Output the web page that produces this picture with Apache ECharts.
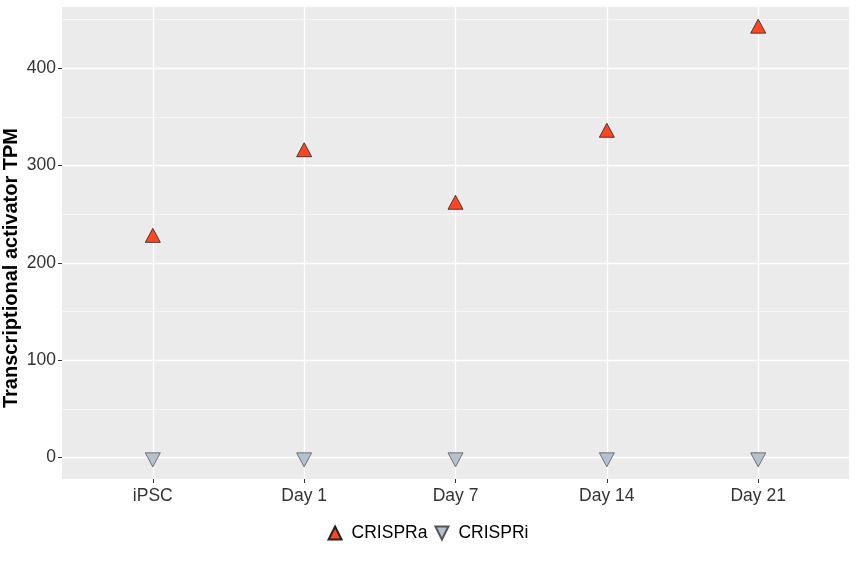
<!DOCTYPE html>
<html>
<head>
<meta charset="utf-8">
<script src="https://cdn.jsdelivr.net/npm/echarts@6/dist/echarts.min.js"></script>
<style>html,body{margin:0;padding:0;background:#fff}#c{width:856px;height:571px}</style>
</head>
<body>
<div id="c"></div>
<script>
const categories = ['iPSC', 'Day 1', 'Day 7', 'Day 14', 'Day 21'];
const crisprA = [226, 314, 260, 334, 441];
const crisprI = [0, 0, 0, 0, 0];
const yTicks = [0, 100, 200, 300, 400];
const yMinorTicks = [50, 150, 250, 350, 450];
const seriesNames = ['CRISPRa', 'CRISPRi'];

const dataMax = Math.max(...crisprA, ...crisprI);
const dataMin = Math.min(...crisprA, ...crisprI);
const span = dataMax - dataMin;
const yMin = dataMin - 0.05 * span;
const yMax = dataMax + 0.05 * span;
const xIdx = categories.map((c, i) => i);

const FONT = 'Liberation Sans, Arial, Helvetica, sans-serif';
const chart = echarts.init(document.getElementById('c'), null, {renderer: 'canvas'});

const upTri = 'path://M0,-1L1,1L-1,1Z';
const downTri = 'path://M-1,-1L1,-1L0,1Z';

chart.setOption({
  animation: false,
  backgroundColor: '#ffffff',
  textStyle: {fontFamily: FONT},
  grid: {
    left: 62, right: 7, top: 7, bottom: 92,
    containLabel: false,
    outerBoundsMode: 'none',
    show: true, backgroundColor: '#EBEBEB', borderWidth: 0
  },
  legend: {
    data: [
      {name: seriesNames[0], icon: upTri},
      {name: seriesNames[1], icon: downTri}
    ],
    left: 'center',
    top: 519,
    itemWidth: 15,
    itemHeight: 13,
    itemGap: 7,
    textStyle: {fontSize: 17.5, color: '#000', fontFamily: FONT, padding: [0, 0, 0, 4]}
  },
  xAxis: {
    type: 'value',
    min: -0.6,
    max: categories.length - 1 + 0.6,
    axisLine: {show: false, onZero: false},
    axisTick: {show: true, length: 4, lineStyle: {color: '#333333', width: 1}, customValues: xIdx},
    axisLabel: {
      customValues: xIdx,
      formatter: v => categories[Math.round(v)],
      fontSize: 17.5, color: '#333333', margin: 8, fontFamily: FONT
    },
    splitLine: {show: true, lineStyle: {color: '#ffffff', width: 1.3}}
  },
  yAxis: [
    {
      type: 'value',
      min: yMin, max: yMax,
      name: 'Transcriptional activator TPM',
      nameLocation: 'middle',
      nameGap: 41,
      nameMoveOverlap: false,
      nameTextStyle: {fontSize: 20, fontWeight: 'bold', color: '#000', fontFamily: FONT, padding: [0, 50, 0, 0]},
      axisLine: {show: false, onZero: false},
      axisTick: {show: true, length: 4, lineStyle: {color: '#333333', width: 1}, customValues: yTicks},
      axisLabel: {customValues: yTicks, fontSize: 17.5, color: '#333333', margin: 6, fontFamily: FONT},
      splitLine: {show: true, lineStyle: {color: '#ffffff', width: 1.3}},
      z: 2
    },
    {
      type: 'value',
      min: yMin, max: yMax,
      position: 'left',
      axisLine: {show: false, onZero: false},
      axisTick: {show: false, customValues: yMinorTicks},
      axisLabel: {show: false, customValues: yMinorTicks},
      splitLine: {show: true, lineStyle: {color: '#ffffff', width: 0.6}},
      z: 1
    }
  ],
  series: [
    {
      name: seriesNames[0],
      type: 'scatter',
      symbol: upTri,
      symbolSize: [15, 14],
      symbolOffset: [0, -2.3],
      itemStyle: {color: '#FF4522', borderColor: '#222222', borderWidth: 0.8, opacity: 1},
      data: crisprA.map((v, i) => [i, v]),
      z: 5
    },
    {
      name: seriesNames[1],
      type: 'scatter',
      symbol: downTri,
      symbolSize: [15, 14],
      symbolOffset: [0, 2.3],
      itemStyle: {color: '#B6C1CF', borderColor: '#555555', borderWidth: 0.8, opacity: 1},
      data: crisprI.map((v, i) => [i, v]),
      z: 5
    }
  ]
});
</script>
</body>
</html>
